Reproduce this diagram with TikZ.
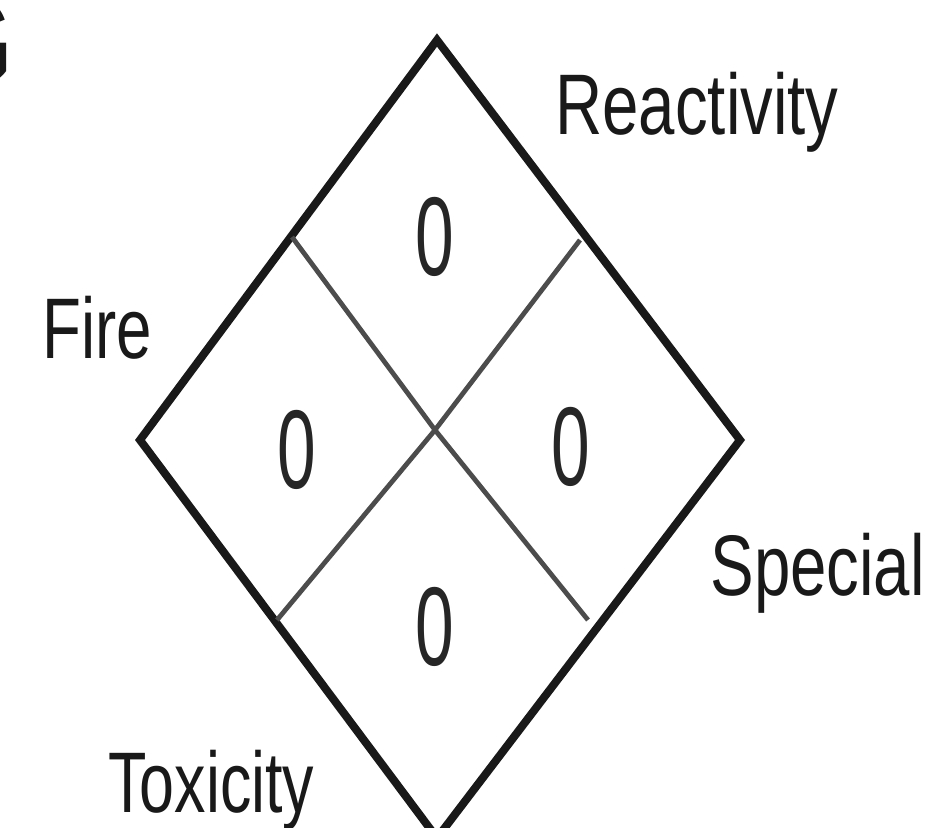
\documentclass[tikz,border=0pt]{standalone}
\usepackage{fontspec}
\setmainfont{Liberation Sans}
\usepackage{tikz}
\usetikzlibrary{calc}
\newcommand{\narrowtext}[2]{\scalebox{#1}[1]{#2}}

\begin{document}
\begin{tikzpicture}[
    x=0.5pt, y=-0.5pt,
    rim/.style={draw=black!90, line width=4pt, line join=miter},
    cross/.style={draw=black!70, line width=2.4pt},
    lbl/.style={inner sep=0pt, text=black!90, font=\fontsize{43}{50}\selectfont},
    num/.style={inner sep=0pt, text=black!85, font=\fontsize{56}{64}\selectfont}
]
    \useasboundingbox (0,0) rectangle (933,827);

    % Diamond corners
    \coordinate (top) at (437,40);
    \coordinate (left) at (140,440);
    \coordinate (right) at (740,440);
    \coordinate (bottom) at (437,838);
    \coordinate (mid) at (435,430);

    % Where the inner lines meet the rim
    \coordinate (tl) at (292,237);
    \coordinate (tr) at (580,240);
    \coordinate (bl) at (277,620);
    \coordinate (br) at (588,620);

    % Rim
    \draw[rim] (top) -- (right) -- (bottom) -- (left) -- cycle;

    % Inner lines
    \draw[cross] (tl) -- (mid) -- (br);
    \draw[cross] (tr) -- (mid) -- (bl);

    % Ratings
    \node[num, anchor=base] (reactnum) at (435,275) {\narrowtext{0.62}{0}};
    \node[num, anchor=base] (firenum) at (297,488) {\narrowtext{0.62}{0}};
    \node[num, anchor=base] (specnum) at (571,485) {\narrowtext{0.62}{0}};
    \node[num, anchor=base] (toxnum) at (435,665) {\narrowtext{0.62}{0}};

    % Labels
    \node[lbl, anchor=base west] (react) at (555,134) {\narrowtext{0.76}{Reactivity}};
    \node[lbl, anchor=base west] (fire) at (42,358) {\narrowtext{0.74}{Fire}};
    \node[lbl, anchor=base west] (spec) at (710,595) {\narrowtext{0.76}{Special}};
    \node[lbl, anchor=base west] (tox) at (108,812) {\narrowtext{0.73}{Toxicity}};

    % Cut-off letter at the top left
    \node[lbl, anchor=base east, font=\fontsize{60}{66}\selectfont] (cut) at (14,84) {\narrowtext{0.76}{G}};
\end{tikzpicture}
\end{document}
